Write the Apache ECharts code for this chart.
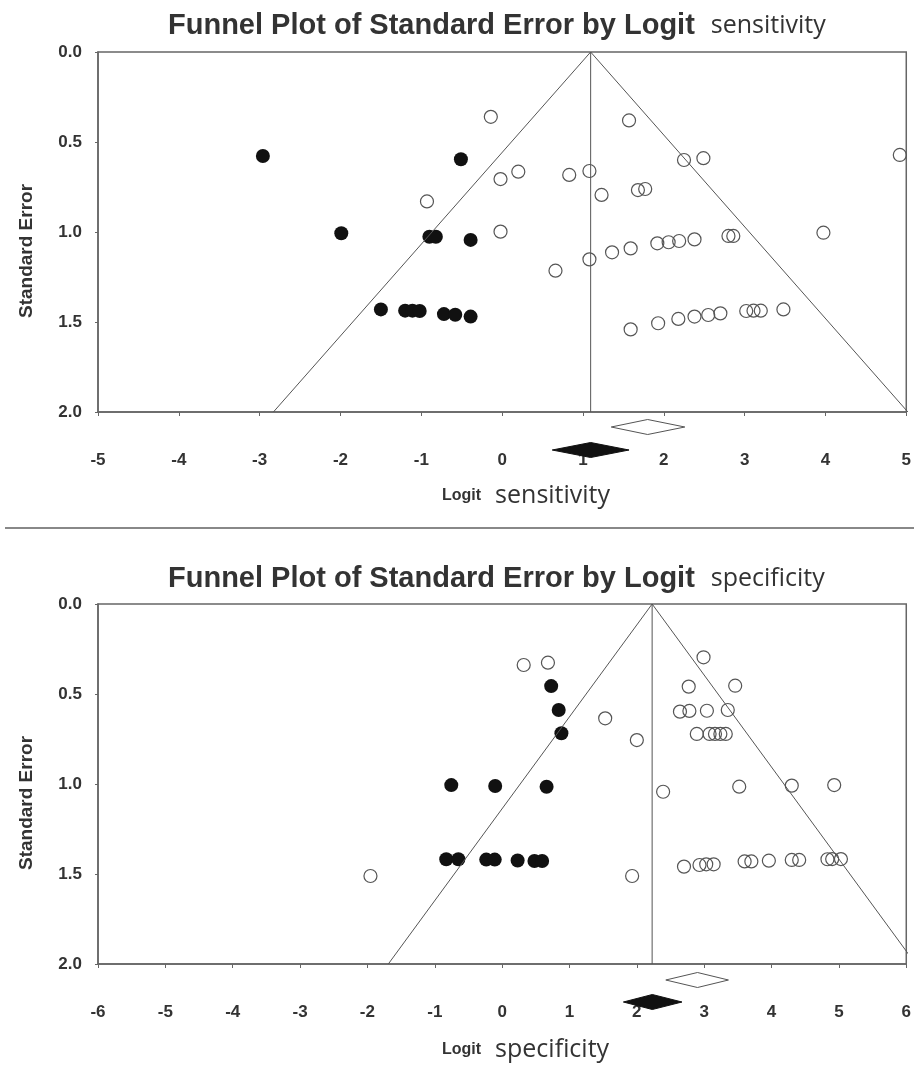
<!DOCTYPE html>
<html>
<head>
<meta charset="utf-8">
<title>Funnel plots</title>
<script src="https://cdn.jsdelivr.net/npm/echarts@6/dist/echarts.min.js"></script>
<style>
  body { margin: 0; background: #fff; }
  #chart { width: 914px; height: 1068px; }
</style>
</head>
<body>
<div id="chart"></div>
<script>
// sensitivity panel: [logit, standard error]
const sensObserved = [
  [-0.93, 0.83], [-0.14, 0.36], [-0.02, 0.706], [0.20, 0.665], [0.83, 0.683],
  [1.08, 0.661], [1.23, 0.794], [1.57, 0.38], [1.68, 0.767], [1.77, 0.761],
  [2.25, 0.60], [2.49, 0.59], [4.92, 0.572],
  [-0.02, 0.998], [0.66, 1.215], [1.08, 1.152], [1.36, 1.113], [1.59, 1.091],
  [1.92, 1.063], [2.06, 1.057], [2.19, 1.05], [2.38, 1.041], [2.80, 1.022],
  [2.86, 1.022], [3.975, 1.004],
  [1.59, 1.541], [1.93, 1.507], [2.18, 1.483], [2.38, 1.47], [2.55, 1.461],
  [2.70, 1.452], [3.02, 1.439], [3.11, 1.437], [3.20, 1.437], [3.48, 1.43]
];
const sensImputed = [
  [-2.96, 0.578], [-0.51, 0.596], [-1.99, 1.007], [-0.90, 1.026], [-0.82, 1.026],
  [-0.39, 1.044], [-1.50, 1.43], [-1.20, 1.437], [-1.11, 1.437], [-1.02, 1.439],
  [-0.72, 1.456], [-0.58, 1.46], [-0.39, 1.47]
];
const sensFunnel = [[-2.83, 2], [1.095, 0], [5.02, 2]];
const sensCenter = [[1.095, 0], [1.095, 2]];
const sensDiamondObserved = [1.35, 1.80, 2.26];
const sensDiamondAdjusted = [0.62, 1.095, 1.57];

// specificity panel
const specObserved = [
  [0.32, 0.339], [0.68, 0.326], [1.53, 0.635], [2.00, 0.756], [2.39, 1.043],
  [2.99, 0.296], [2.77, 0.459], [3.46, 0.454],
  [2.64, 0.598], [2.78, 0.594], [3.04, 0.593], [3.35, 0.589],
  [2.89, 0.722], [3.08, 0.722], [3.16, 0.722], [3.24, 0.722], [3.32, 0.722],
  [3.52, 1.015], [4.30, 1.009], [4.93, 1.006],
  [-1.955, 1.511], [1.93, 1.511], [2.70, 1.459], [2.93, 1.45], [3.03, 1.446],
  [3.14, 1.446], [3.60, 1.43], [3.70, 1.43], [3.96, 1.426], [4.30, 1.422],
  [4.41, 1.422], [4.83, 1.418], [4.90, 1.417], [5.03, 1.417]
];
const specImputed = [
  [0.728, 0.456], [0.84, 0.589], [0.88, 0.718],
  [-0.755, 1.006], [-0.103, 1.011], [0.66, 1.015],
  [-0.83, 1.418], [-0.65, 1.418], [-0.236, 1.42], [-0.11, 1.42],
  [0.23, 1.425], [0.48, 1.428], [0.594, 1.428]
];
const specFunnel = [[-1.69, 2], [2.227, 0], [6.14, 2]];
const specCenter = [[2.227, 0], [2.227, 2]];
const specDiamondObserved = [2.43, 2.90, 3.36];
const specDiamondAdjusted = [1.80, 2.23, 2.67];

const seTicks = { min: 0, max: 2, interval: 0.5 };
const sensRange = { min: -5, max: 5, interval: 1 };
const specRange = { min: -6, max: 6, interval: 1 };

const axisColor = '#666';
const textColor = '#333';
const boldFont = '"Liberation Sans", Arial, sans-serif';
const plainFont = '"Open Sans", sans-serif';

const chart = echarts.init(document.getElementById('chart'), null, { renderer: 'canvas' });

function xAxisFor(range, gridIndex) {
  return {
    type: 'value', gridIndex, min: range.min, max: range.max, interval: range.interval,
    axisLine: { onZero: false, lineStyle: { color: axisColor, width: 1.5 } },
    axisTick: { length: 4, lineStyle: { color: axisColor } },
    splitLine: { show: false },
    axisLabel: { margin: 40, fontSize: 17, fontWeight: 'bold', fontFamily: boldFont, color: textColor }
  };
}

function yAxisFor(gridIndex) {
  return {
    type: 'value', gridIndex, inverse: true,
    min: seTicks.min, max: seTicks.max, interval: seTicks.interval,
    name: 'Standard Error', nameLocation: 'middle', nameGap: 62, nameRotate: 90,
    nameTextStyle: { fontSize: 19, fontWeight: 'bold', fontFamily: boldFont, color: textColor, padding: [0, 38, 0, 0] },
    axisLine: { onZero: false, lineStyle: { color: axisColor, width: 1.5 } },
    axisTick: { length: 3, lineStyle: { color: axisColor } },
    splitLine: { show: false },
    axisLabel: {
      margin: 16, fontSize: 17, fontWeight: 'bold', fontFamily: boldFont, color: textColor,
      formatter: v => v.toFixed(1)
    }
  };
}

function diamondRender(offset, filled) {
  return function (params, api) {
    const lo = api.coord([api.value(0), seTicks.max]);
    const mid = api.coord([api.value(1), seTicks.max]);
    const hi = api.coord([api.value(2), seTicks.max]);
    const y = lo[1] + offset;
    return {
      type: 'polygon',
      shape: { points: [[lo[0], y], [mid[0], y - 7.5], [hi[0], y], [mid[0], y + 7.5]] },
      style: { fill: filled ? '#111' : '#fff', stroke: filled ? '#111' : '#555', lineWidth: 1 }
    };
  };
}

function panelSeries(idx, observed, imputed, funnel, center, dObs, dAdj, obsOffset) {
  const line = { color: '#555', width: 1 };
  return [
    { type: 'line', xAxisIndex: idx, yAxisIndex: idx, data: funnel, symbol: 'none', lineStyle: line, silent: true },
    { type: 'line', xAxisIndex: idx, yAxisIndex: idx, data: center, symbol: 'none', lineStyle: line, silent: true },
    {
      type: 'scatter', xAxisIndex: idx, yAxisIndex: idx, data: observed, symbolSize: 13,
      itemStyle: { color: 'rgba(0,0,0,0)', borderColor: '#555', borderWidth: 1.2, opacity: 1 }
    },
    {
      type: 'scatter', xAxisIndex: idx, yAxisIndex: idx, data: imputed, symbolSize: 14,
      itemStyle: { color: '#111', opacity: 1 }
    },
    { type: 'custom', xAxisIndex: idx, yAxisIndex: idx, clip: false, data: [dObs], renderItem: diamondRender(obsOffset, false) },
    { type: 'custom', xAxisIndex: idx, yAxisIndex: idx, clip: false, data: [dAdj], renderItem: diamondRender(38, true) }
  ];
}

const titleRich = {
  b: { fontSize: 29, fontWeight: 'bold', fontFamily: boldFont, color: textColor },
  n: { fontSize: 25, fontWeight: 'normal', fontFamily: plainFont, color: textColor, padding: [0, 0, 0, 16] }
};
const nameRich = {
  b: { fontSize: 16, fontWeight: 'bold', fontFamily: boldFont, color: textColor },
  n: { fontSize: 25, fontWeight: 'normal', fontFamily: plainFont, color: textColor, padding: [0, 0, 0, 14] }
};

const option = {
  backgroundColor: '#fff',
  animation: false,
  title: [
    { left: 163, top: 6, text: '{b|Funnel Plot of Standard Error by Logit}{n|sensitivity}', textStyle: { fontWeight: 'normal', rich: titleRich } },
    { left: 163, top: 559, text: '{b|Funnel Plot of Standard Error by Logit}{n|specificity}', textStyle: { fontWeight: 'normal', rich: titleRich } },
    { left: 437, top: 478, text: '{b|Logit}{n|sensitivity}', textStyle: { fontWeight: 'normal', rich: nameRich } },
    { left: 437, top: 1032, text: '{b|Logit}{n|specificity}', textStyle: { fontWeight: 'normal', rich: nameRich } }
  ],
  grid: [
    { left: 98, top: 52, width: 809, height: 360, show: true, borderColor: axisColor, borderWidth: 1.5 },
    { left: 98, top: 604, width: 809, height: 360, show: true, borderColor: axisColor, borderWidth: 1.5 }
  ],
  xAxis: [xAxisFor(sensRange, 0), xAxisFor(specRange, 1)],
  yAxis: [yAxisFor(0), yAxisFor(1)],
  graphic: [
    { type: 'line', shape: { x1: 5, y1: 528, x2: 914, y2: 528 }, style: { stroke: '#888', lineWidth: 2 } }
  ],
  series: [
    ...panelSeries(0, sensObserved, sensImputed, sensFunnel, sensCenter, sensDiamondObserved, sensDiamondAdjusted, 15),
    ...panelSeries(1, specObserved, specImputed, specFunnel, specCenter, specDiamondObserved, specDiamondAdjusted, 16)
  ]
};

chart.setOption(option);
</script>
</body>
</html>
